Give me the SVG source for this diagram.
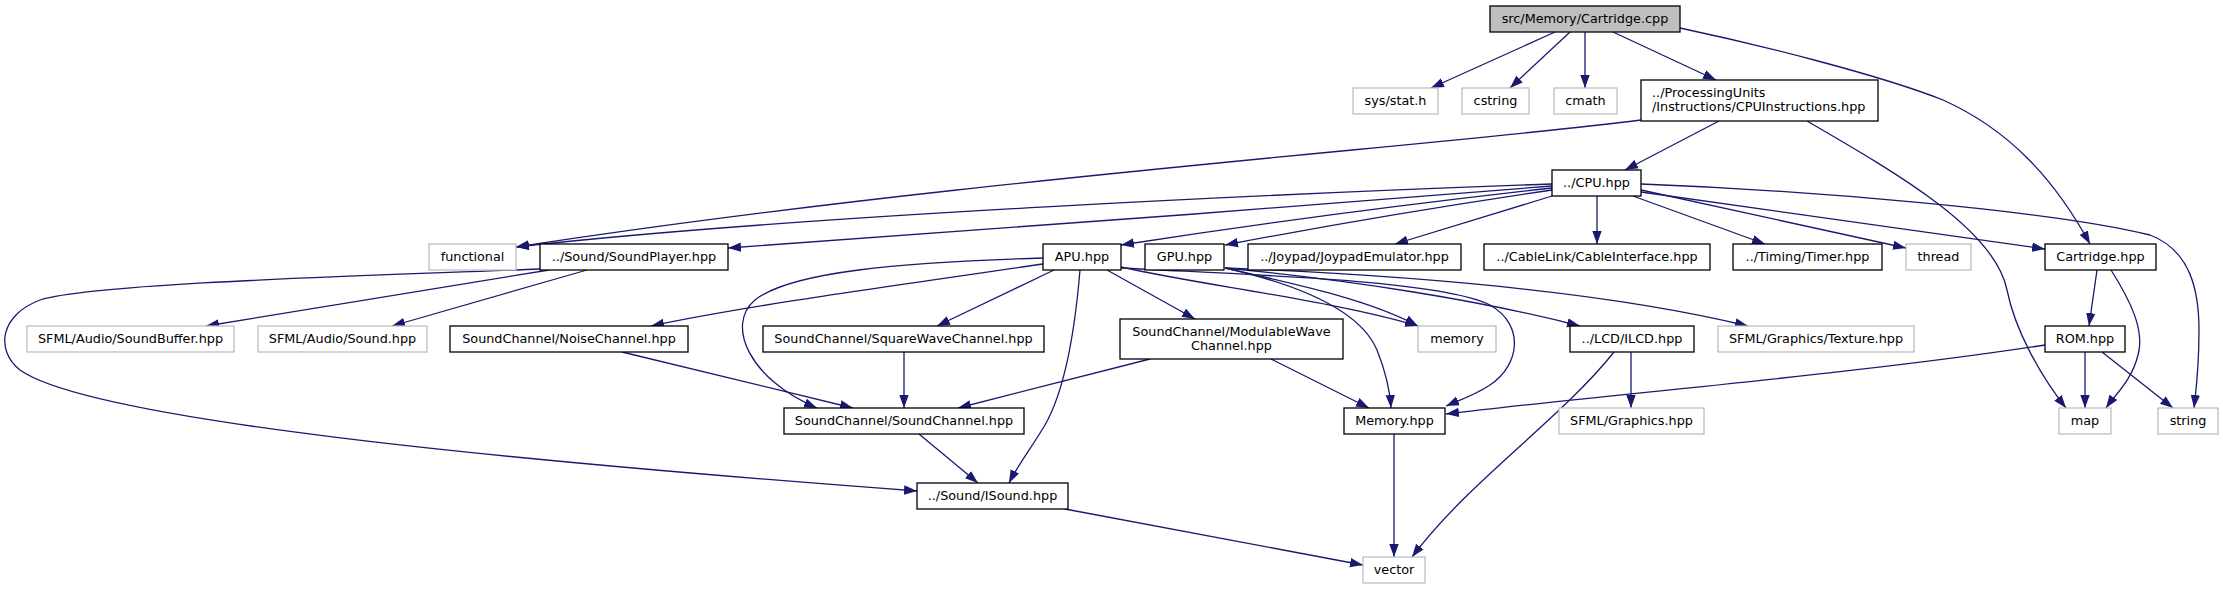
<svg xmlns="http://www.w3.org/2000/svg" width="2223" height="589" viewBox="0 0 2223 589">
<style>
.n rect{fill:#fff;stroke:#000;stroke-width:1.3}
.x rect{fill:#fff;stroke:#bfbfbf;stroke-width:1.3}
.r rect{fill:#bfbfbf;stroke:#000;stroke-width:1.3}
text{font-family:"DejaVu Sans","Liberation Sans",sans-serif;font-size:12.8px;fill:#000;text-anchor:middle}
text.l{text-anchor:start}
#edges path{fill:none;stroke:#191970;stroke-width:1.3;marker-end:url(#arr)}
</style>
<defs>
<marker id="arr" markerUnits="userSpaceOnUse" markerWidth="14" markerHeight="10" refX="13" refY="5" orient="auto" viewBox="0 0 14 10">
<path d="M0,0.3 L13,5 L0,9.7 z" fill="#191970"/>
</marker>
</defs>
<rect width="2223" height="589" fill="#fff"/>
<g id="edges">
<path d="M1555,32 L1431,88"/>
<path d="M1570,32 L1510,88"/>
<path d="M1585,32 L1585,88"/>
<path d="M1613,32 L1716,80"/>
<path d="M1680,28 C1760,45 1880,75 1943,100 C2010,130 2055,180 2090,244"/>
<path d="M1641,120 C1450,145 950,180 516,247"/>
<path d="M1719,121 L1625,170"/>
<path d="M1807,121 C1900,175 1995,230 2007,290 C2015,330 2040,375 2066,408"/>
<path d="M1552,184 C1300,193 800,215 516,247"/>
<path d="M1552,186 C1300,207 950,232 728,248"/>
<path d="M1552,188 C1400,205 1250,225 1121,245"/>
<path d="M1552,190 C1450,205 1330,225 1225,245"/>
<path d="M1552,196 L1395,244"/>
<path d="M1597,196 L1597,244"/>
<path d="M1633,196 L1765,244"/>
<path d="M1641,190 L1906,248"/>
<path d="M1641,192 L2045,249"/>
<path d="M1641,184 C1800,190 2050,210 2150,235 C2190,250 2199,290 2199,330 C2199,370 2196,390 2194,408"/>
<path d="M549,270 L206,326"/>
<path d="M587,270 L392,326"/>
<path d="M540,269 C400,275 100,282 40,300 C0,315 -5,350 20,370 C90,420 500,460 917,491"/>
<path d="M1043,264 C900,285 750,305 651,326"/>
<path d="M1043,258 C900,262 790,272 755,300 C725,325 750,380 817,408"/>
<path d="M1054,270 L937,326"/>
<path d="M1107,270 L1195,319"/>
<path d="M1080,270 C1075,330 1065,390 1045,425 C1030,450 1018,465 1009,483"/>
<path d="M1121,267 C1200,285 1330,300 1418,326"/>
<path d="M1121,268 C1250,275 1440,280 1490,305 C1525,325 1520,365 1490,385 C1475,395 1460,400 1446,406"/>
<path d="M1225,268 C1300,285 1370,300 1418,326"/>
<path d="M1225,268 C1300,285 1360,310 1377,350 C1385,370 1390,390 1391,408"/>
<path d="M1225,268 C1350,280 1480,300 1580,326"/>
<path d="M1225,268 C1400,275 1600,290 1748,326"/>
<path d="M2097,270 L2089,326"/>
<path d="M2111,270 C2130,300 2145,330 2138,355 C2132,380 2115,395 2106,408"/>
<path d="M2045,345 C1850,375 1600,395 1446,414"/>
<path d="M2085,352 L2085,408"/>
<path d="M2102,352 L2173,408"/>
<path d="M622,352 L853,408"/>
<path d="M904,352 L904,408"/>
<path d="M1150,359 L958,408"/>
<path d="M1271,359 L1369,408"/>
<path d="M919,434 L978,483"/>
<path d="M1065,509 L1363,565"/>
<path d="M1394,434 L1394,557"/>
<path d="M1631,352 L1631,408"/>
<path d="M1614,352 C1560,420 1470,480 1412,557"/>
</g>
<g id="node_cartridge_cpp" class="r"><rect x="1490" y="6" width="190" height="26"/><text x="1585" y="22.8">src/Memory/Cartridge.cpp</text></g>
<g id="node_sys_stat" class="x"><rect x="1353" y="88" width="85" height="26"/><text x="1395.5" y="104.8">sys/stat.h</text></g>
<g id="node_cstring" class="x"><rect x="1462" y="88" width="67" height="26"/><text x="1495.5" y="104.8">cstring</text></g>
<g id="node_cmath" class="x"><rect x="1554" y="88" width="63" height="26"/><text x="1585.5" y="104.8">cmath</text></g>
<g id="node_cpuinstructions" class="n"><rect x="1641" y="80" width="237" height="41"/><text class="l" x="1652" y="97">../ProcessingUnits</text><text class="l" x="1652" y="111">/Instructions/CPUInstructions.hpp</text></g>
<g id="node_cpu" class="n"><rect x="1552" y="170" width="89" height="26"/><text x="1596.5" y="186.8">../CPU.hpp</text></g>
<g id="node_functional" class="x"><rect x="429" y="244" width="87" height="26"/><text x="472.5" y="260.8">functional</text></g>
<g id="node_soundplayer" class="n"><rect x="540" y="244" width="188" height="26"/><text x="634" y="260.8">../Sound/SoundPlayer.hpp</text></g>
<g id="node_apu" class="n"><rect x="1043" y="244" width="78" height="26"/><text x="1082" y="260.8">APU.hpp</text></g>
<g id="node_gpu" class="n"><rect x="1145" y="244" width="79" height="26"/><text x="1184.5" y="260.8">GPU.hpp</text></g>
<g id="node_joypad" class="n"><rect x="1248" y="244" width="213" height="26"/><text x="1354.5" y="260.8">../Joypad/JoypadEmulator.hpp</text></g>
<g id="node_cable" class="n"><rect x="1484" y="244" width="226" height="26"/><text x="1597" y="260.8">../CableLink/CableInterface.hpp</text></g>
<g id="node_timer" class="n"><rect x="1733" y="244" width="149" height="26"/><text x="1807.5" y="260.8">../Timing/Timer.hpp</text></g>
<g id="node_thread" class="x"><rect x="1906" y="244" width="65" height="26"/><text x="1938.5" y="260.8">thread</text></g>
<g id="node_cartridge_hpp" class="n"><rect x="2045" y="244" width="111" height="26"/><text x="2100.5" y="260.8">Cartridge.hpp</text></g>
<g id="node_soundbuffer" class="x"><rect x="27" y="326" width="207" height="26"/><text x="130.5" y="342.8">SFML/Audio/SoundBuffer.hpp</text></g>
<g id="node_sound" class="x"><rect x="258" y="326" width="169" height="26"/><text x="342.5" y="342.8">SFML/Audio/Sound.hpp</text></g>
<g id="node_noise" class="n"><rect x="450" y="326" width="238" height="26"/><text x="569" y="342.8">SoundChannel/NoiseChannel.hpp</text></g>
<g id="node_square" class="n"><rect x="763" y="326" width="281" height="26"/><text x="903.5" y="342.8">SoundChannel/SquareWaveChannel.hpp</text></g>
<g id="node_modulable" class="n"><rect x="1120" y="319" width="223" height="40"/><text x="1231.5" y="335.5">SoundChannel/ModulableWave</text><text x="1231.5" y="349.5">Channel.hpp</text></g>
<g id="node_memory_std" class="x"><rect x="1418" y="326" width="78" height="26"/><text x="1457" y="342.8">memory</text></g>
<g id="node_ilcd" class="n"><rect x="1570" y="326" width="124" height="26"/><text x="1632" y="342.8">../LCD/ILCD.hpp</text></g>
<g id="node_texture" class="x"><rect x="1718" y="326" width="196" height="26"/><text x="1816" y="342.8">SFML/Graphics/Texture.hpp</text></g>
<g id="node_rom" class="n"><rect x="2045" y="326" width="80" height="26"/><text x="2085" y="342.8">ROM.hpp</text></g>
<g id="node_soundchannel" class="n"><rect x="784" y="408" width="240" height="26"/><text x="904" y="424.8">SoundChannel/SoundChannel.hpp</text></g>
<g id="node_memory_hpp" class="n"><rect x="1344" y="408" width="101" height="26"/><text x="1394.5" y="424.8">Memory.hpp</text></g>
<g id="node_graphics" class="x"><rect x="1559" y="408" width="145" height="26"/><text x="1631.5" y="424.8">SFML/Graphics.hpp</text></g>
<g id="node_map" class="x"><rect x="2059" y="408" width="52" height="26"/><text x="2085" y="424.8">map</text></g>
<g id="node_string" class="x"><rect x="2158" y="408" width="60" height="26"/><text x="2188" y="424.8">string</text></g>
<g id="node_isound" class="n"><rect x="917" y="483" width="151" height="26"/><text x="992.5" y="499.8">../Sound/ISound.hpp</text></g>
<g id="node_vector" class="x"><rect x="1363" y="557" width="62" height="26"/><text x="1394" y="573.8">vector</text></g>
</svg>
